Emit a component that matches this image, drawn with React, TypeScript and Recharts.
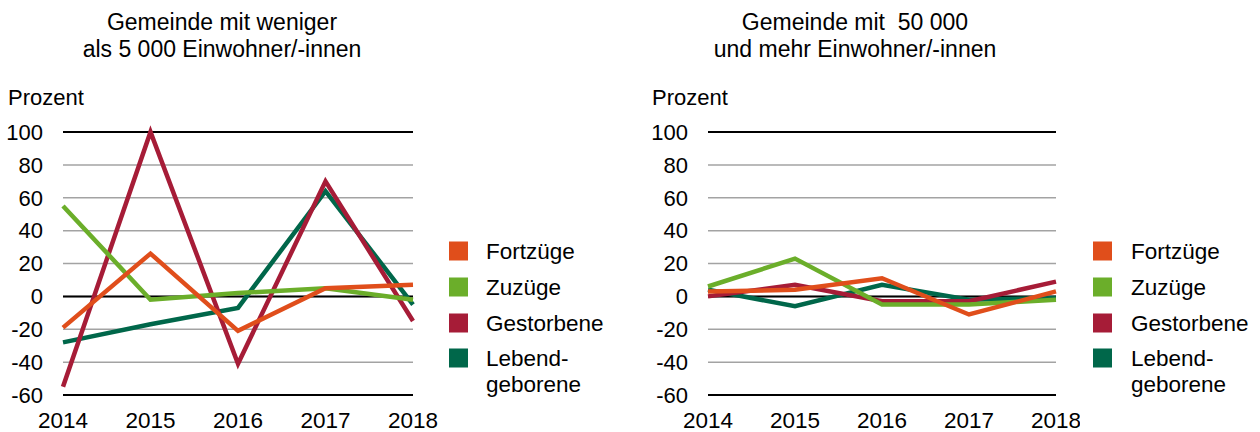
import { CartesianGrid, Line, LineChart, ReferenceLine, XAxis, YAxis } from "recharts";

const years = [2014, 2015, 2016, 2017, 2018];
const yTicks = [-60, -40, -20, 0, 20, 40, 60, 80, 100];
const seriesNames = ["Fortzüge", "Zuzüge", "Gestorbene", "Lebendgeborene"];
const seriesColors = ["#E04E1B", "#6BAE2A", "#A61C37", "#00674A"];

// Gemeinden mit weniger als 5 000 Einwohner/-innen
const smallFortzuege = [-19, 26, -21, 5, 7];
const smallZuzuege = [55, -2, 2, 5, -2];
const smallGestorbene = [-55, 100, -41, 70, -15];
const smallLebendgeborene = [-28, -17, -7, 64, -5];

// Gemeinden mit 50 000 und mehr Einwohner/-innen
const largeFortzuege = [3, 4, 11, -11, 3];
const largeZuzuege = [6, 23, -5, -5, -2];
const largeGestorbene = [0, 7, -3, -3, 9];
const largeLebendgeborene = [4, -6, 7, -2, -1];

const FONT = '"Liberation Sans", Arial, sans-serif';
// draw order: bottom first
const drawOrder = [3, 2, 1, 0];

function buildRows(series: number[][]) {
  return years.map((year, i) => {
    const row: Record<string, number> = { year };
    seriesNames.forEach((name, s) => {
      row[name] = series[s][i];
    });
    return row;
  });
}

type PanelProps = {
  left: number;
  series: number[][];
  yAxisWidth: number;
  rightMargin: number;
};

function Panel({ left, series, yAxisWidth, rightMargin }: PanelProps) {
  const data = buildRows(series);
  return (
    <div style={{ position: "absolute", left, top: 0 }}>
      <LineChart width={440} height={432} data={data} margin={{ top: 132, right: rightMargin, bottom: 0, left: 0 }}>
        <CartesianGrid vertical={false} stroke="#a3a3a3" strokeWidth={1.5} />
        <XAxis
          dataKey="year"
          type="number"
          domain={[2014, 2018]}
          ticks={years}
          interval={0}
          height={37}
          axisLine={false}
          tickLine={false}
          tickSize={0}
          tickMargin={17}
          tick={{ fill: "#000", fontSize: 22.5, fontFamily: FONT }}
        />
        <YAxis
          type="number"
          domain={[-60, 100]}
          ticks={yTicks}
          interval={0}
          width={yAxisWidth}
          axisLine={false}
          tickLine={false}
          tickSize={0}
          tickMargin={20}
          tick={{ fill: "#000", fontSize: 22, fontFamily: FONT }}
        />
        <ReferenceLine y={100} stroke="#000" strokeWidth={2} />
        <ReferenceLine y={0} stroke="#000" strokeWidth={2} />
        <ReferenceLine y={-60} stroke="#000" strokeWidth={2} />
        {drawOrder.map((s) => (
          <Line
            key={seriesNames[s]}
            dataKey={seriesNames[s]}
            stroke={seriesColors[s]}
            strokeWidth={4.5}
            dot={false}
            activeDot={false}
            type="linear"
            isAnimationActive={false}
          />
        ))}
      </LineChart>
    </div>
  );
}

function LegendBlock({ x, squareX }: { x: number; squareX: number }) {
  const rowY = [251, 287, 323, 358];
  return (
    <g>
      {seriesNames.map((name, i) => (
        <g key={name}>
          <rect x={squareX} y={rowY[i] - 9.5} width={19} height={19} fill={seriesColors[i]} />
          {name === "Lebendgeborene" ? (
            <text x={x} y={rowY[i] + 8} fontSize={22.5} fontFamily={FONT} fill="#000">
              <tspan x={x}>Lebend-</tspan>
              <tspan x={x} dy={26}>geborene</tspan>
            </text>
          ) : (
            <text x={x} y={rowY[i] + 8} fontSize={22.5} fontFamily={FONT} fill="#000">
              {name}
            </text>
          )}
        </g>
      ))}
    </g>
  );
}

export default function App() {
  return (
    <div style={{ position: "absolute", left: 0, top: 0, width: 1260, height: 432, background: "#fff", fontFamily: FONT }}>
      <Panel
        left={0}
        series={[smallFortzuege, smallZuzuege, smallGestorbene, smallLebendgeborene]}
        yAxisWidth={63}
        rightMargin={27}
      />
      <Panel
        left={640}
        series={[largeFortzuege, largeZuzuege, largeGestorbene, largeLebendgeborene]}
        yAxisWidth={68}
        rightMargin={24}
      />
      <svg width={1260} height={432} style={{ position: "absolute", left: 0, top: 0, pointerEvents: "none" }}>
        <g fontFamily={FONT} fontSize={23} fill="#000" textAnchor="middle">
          <text x={222} y={30}>Gemeinde mit weniger</text>
          <text x={222} y={57}>als 5 000 Einwohner/-innen</text>
          <text x={855} y={30} xmlSpace="preserve" style={{ whiteSpace: "pre" }}>{"Gemeinde mit  50 000"}</text>
          <text x={855} y={57}>und mehr Einwohner/-innen</text>
        </g>
        <text x={8} y={105} fontFamily={FONT} fontSize={22} fill="#000">Prozent</text>
        <text x={652} y={105} fontFamily={FONT} fontSize={22} fill="#000">Prozent</text>
        <LegendBlock x={486} squareX={449} />
        <LegendBlock x={1131} squareX={1093} />
      </svg>
    </div>
  );
}
